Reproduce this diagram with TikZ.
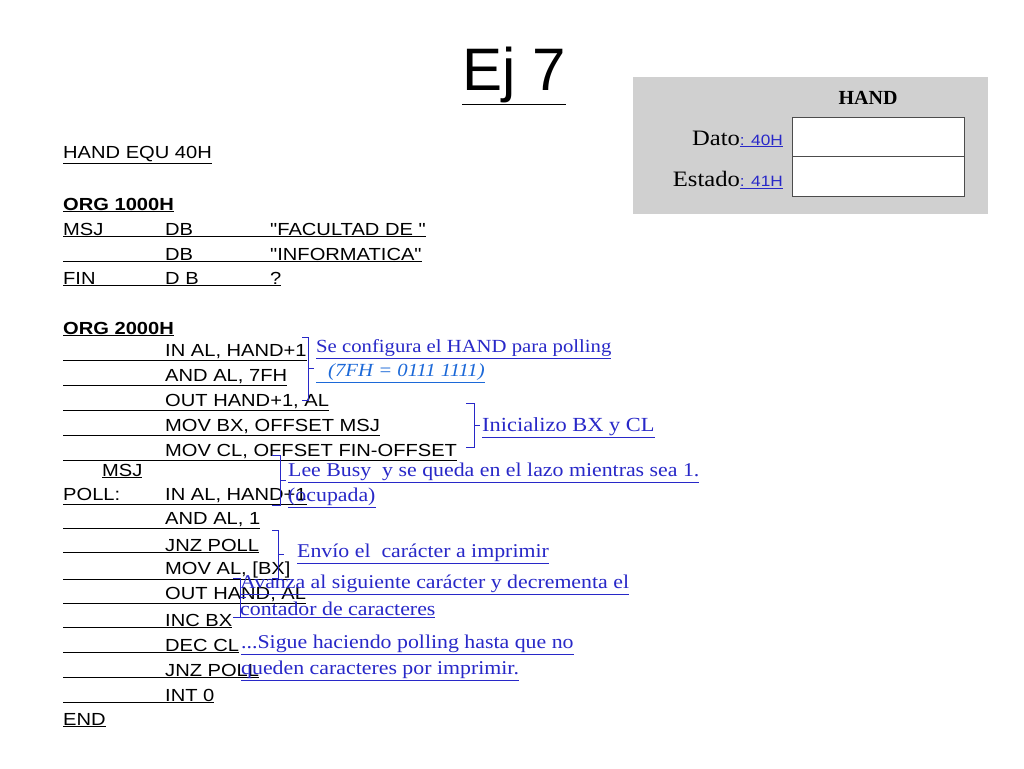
\documentclass[tikz,border=0pt]{standalone}
\usepackage{fontspec}
\setmainfont{Liberation Serif}
\newfontfamily\codefont[FakeStretch=1.15]{Liberation Sans}
\newfontfamily\titlefont{Liberation Sans}
\newfontfamily\notefont[FakeStretch=1.12]{Liberation Serif}
\usetikzlibrary{positioning}
\definecolor{notecol}{RGB}{40,40,200}
\definecolor{boxgray}{RGB}{208,208,208}
\tikzset{
  code/.style={anchor=west, inner sep=0pt, font=\codefont\fontsize{17.5}{17.5}\selectfont},
  note/.style={anchor=west, inner sep=0pt, text=notecol, font=\notefont\fontsize{19.5}{19.5}\selectfont},
  brace/.style={notecol, line width=0.8pt},
}
\newcommand{\lab}[1]{\makebox[102pt][l]{#1}}
\newcommand{\opc}[1]{\makebox[105pt][l]{#1}}
\newcommand{\brak}[4]{% x1, x2, ytop, ybottom
  \draw[brace] (#1,#3) -- (#2,#3) -- (#2,#4) -- (#1,#4);
  \draw[brace] (#2,{(#3+#4)/2}) -- ++(6,0);}
\begin{document}
\begin{tikzpicture}[x=1pt, y=-1pt]
\useasboundingbox (0,0) rectangle (1024,768);
\fill[white] (0,0) rectangle (1024,768);
% title
\node[inner sep=0pt, font=\titlefont\fontsize{60}{60}\selectfont] (title) at (514,76) {\underline{Ej 7}};
% HAND table
\fill[boxgray] (633,77) rectangle (988,214);
\node[inner sep=0pt, font=\bfseries\fontsize{20}{20}\selectfont] (hand) at (868,98) {HAND};
\draw[fill=white, draw=black!70] (792,117) rectangle (964,156);
\draw[fill=white, draw=black!70] (792,156) rectangle (964,196);
\node[anchor=east, inner sep=0pt, font=\notefont\fontsize{22}{22}\selectfont] (dato) at (783,139) {Dato{\codefont\fontsize{15}{15}\selectfont\color{notecol}\underline{: 40H}}};
\node[anchor=east, inner sep=0pt, font=\notefont\fontsize{22}{22}\selectfont] (estado) at (783,180) {Estado{\codefont\fontsize{15}{15}\selectfont\color{notecol}\underline{: 41H}}};
% code
\node[code] (c1) at (63,155) {\underline{HAND EQU 40H}};
\node[code, font=\codefont\bfseries\fontsize{17.5}{17.5}\selectfont] (c2) at (63,205) {\underline{ORG 1000H}};
\node[code] (c3) at (63,230) {\underline{\lab{MSJ}\opc{DB}"FACULTAD DE "}};
\node[code] (c4) at (63,255) {\underline{\lab{}\opc{DB}"INFORMATICA"}};
\node[code] (c5) at (63,279) {\underline{\lab{FIN}\opc{D B}?}};
\node[code, font=\codefont\bfseries\fontsize{17.5}{17.5}\selectfont] (c6) at (63,329) {\underline{ORG 2000H}};
\node[code] (c7) at (63,353) {\underline{\lab{}IN AL, HAND+1}};
\node[code] (c8) at (63,378) {\underline{\lab{}AND AL, 7FH}};
\node[code] (c9) at (63,403) {\underline{\lab{}OUT HAND+1, AL}};
\node[code] (c10) at (63,428) {\underline{\lab{}MOV BX, OFFSET MSJ}};
\node[code] (c11) at (63,453) {\underline{\lab{}MOV CL, OFFSET FIN-OFFSET}};
\node[code] (c12) at (102,471) {\underline{MSJ}};
\node[code] (c13) at (63,497) {\underline{\lab{POLL:}IN AL, HAND+1}};
\node[code] (c14) at (63,521) {\underline{\lab{}AND AL, 1}};
\node[code] (c15) at (63,546) {\underline{\lab{}JNZ POLL}};
\node[code] (c16) at (63,571) {\underline{\lab{}MOV AL, [BX]}};
\node[code] (c17) at (63,596) {\underline{\lab{}OUT HAND, AL}};
\node[code] (c18) at (63,621) {\underline{\lab{}INC BX}};
\node[code] (c19) at (63,646) {\underline{\lab{}DEC CL}};
\node[code] (c20) at (63,671) {\underline{\lab{}JNZ POLL}};
\node[code] (c21) at (63,696) {\underline{\lab{}INT 0}};
\node[code] (c22) at (63,720) {\underline{END}};
% notes
\brak{302}{308}{337}{400}
\node[note, font=\notefont\fontsize{18.5}{18.5}\selectfont] (n1) at (316,349) {\underline{Se configura el HAND para polling}};
\node[note, font=\notefont\itshape\fontsize{18.5}{18.5}\selectfont, text=notecol!70!cyan] (n1b) at (316,373) {\underline{\hspace{12pt}(7FH = 0111 1111)}};
\brak{466}{474}{403}{447}
\node[note, font=\notefont\fontsize{20}{20}\selectfont] (n2) at (482,428) {\underline{Inicializo BX y CL}};
\brak{272}{280}{455}{505}
\node[note] (n3) at (288,473) {\underline{Lee Busy\ \ y se queda en el lazo mientras sea 1.}};
\node[note] (n3b) at (288,498) {\underline{(ocupada)}};
\brak{272}{278}{530}{578}
\node[note] (n4) at (297,554) {\underline{Envío el\ \ carácter a imprimir}};
\brak{233}{240}{578}{617}
\node[note] (n5) at (240,585) {\underline{Avanza al siguiente carácter y decrementa el}};
\node[note] (n5b) at (240,610) {\underline{contador de caracteres}};
\node[note] (n6) at (241,645) {\underline{...Sigue haciendo polling hasta que no}};
\node[note] (n6b) at (241,671) {\underline{queden caracteres por imprimir.}};
\end{tikzpicture}
\end{document}
